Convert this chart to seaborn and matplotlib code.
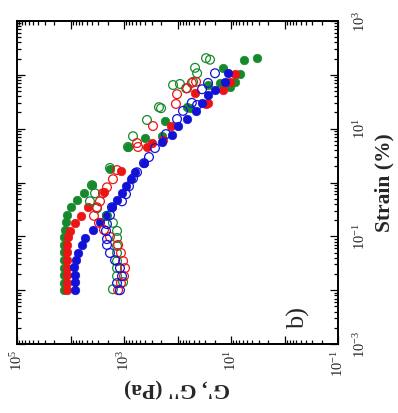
import matplotlib
matplotlib.use("Agg")
import matplotlib.pyplot as plt
import matplotlib.ticker as mticker
import numpy as np
import seaborn as sns

# strain (%) and modulus (Pa), one pair of lists per curve
# G' = filled symbols, G'' = open symbols
green_gp_strain = [0.01, 0.0138, 0.0191, 0.0263, 0.0363, 0.0501, 0.0692, 0.0955, 0.132, 0.182,
                   0.251, 0.347, 0.468, 0.646, 0.891, 1.78, 4.57, 6.76, 7.24, 14.1,
                   24.0, 25.1, 58.9, 64.6, 70.8, 74.1, 102, 135, 191, 204]
green_gp = [13200, 13200, 13200, 13200, 13200, 13200, 13200, 13200, 12700, 12100,
            11600, 9790, 7570, 5600, 3970, 1830, 842, 405, 195, 171,
            58, 66, 10.4, 26.9, 16.1, 8.4, 6.8, 14.1, 5.7, 3.3]

red_gp_strain = [0.01, 0.0138, 0.0191, 0.0263, 0.0363, 0.0501, 0.0692, 0.0955, 0.126, 0.178,
                 0.240, 0.347, 0.664, 1.62, 4.57, 5.50, 6.17, 11.2, 28.8, 30.2,
                 45.7, 52.5, 74.1, 102]
red_gp = [11600, 11600, 11600, 11600, 11600, 11600, 11600, 11100, 10200, 8240,
          6370, 4710, 2370, 1140, 372, 300, 187, 132, 29.3, 26.9,
          47.1, 14.1, 10.4, 8.4]

blue_gp_strain = [0.01, 0.0141, 0.0191, 0.0269, 0.0363, 0.0490, 0.0692, 0.0933, 0.132, 0.182,
                  0.251, 0.347, 0.468, 0.631, 0.851, 1.15, 1.55, 2.29, 5.62, 7.59,
                  11.2, 15.1, 21.4, 30.2, 41.7, 52.5, 74.1, 107]
blue_gp = [8240, 8240, 8240, 8610, 7890, 7240, 6100, 5360, 3800, 2810,
           2170, 1680, 1350, 1090, 918, 740, 623, 423, 195, 127,
           98, 66, 45, 34.8, 26.9, 19.9, 12.9, 11.4]

green_gpp_strain = [0.0104, 0.0141, 0.0182, 0.0257, 0.0347, 0.0490, 0.0661, 0.0933, 0.126, 0.178,
                    0.240, 0.331, 0.447, 0.631, 0.891, 1.86, 4.57, 7.24, 14.5, 25.1,
                    24.0, 64.6, 67.6, 56.2, 74.1, 135, 107, 204, 191]
green_gpp = [1610, 1040, 1350, 1350, 1350, 1350, 1350, 1350, 1350, 1610,
             2080, 3200, 4330, 3480, 3970, 1830, 842, 679, 372, 222,
             203, 121, 90, 69, 51, 47, 43, 29.3, 24.7]

red_gpp_strain = [0.01, 0.0135, 0.0182, 0.0257, 0.0347, 0.0490, 0.0692, 0.0977, 0.132, 0.178,
                  0.240, 0.347, 0.447, 0.631, 0.813, 1.15, 1.70, 4.57, 5.40, 11.2,
                  28.8, 43.7, 56.2, 70.8, 74.1]
red_gpp = [1290, 1140, 1000, 957, 1040, 1140, 1290, 1830, 2370, 2930,
           3640, 3200, 2810, 2470, 2080, 1610, 1350, 547, 571, 287,
           107, 102, 66, 54, 45]

blue_gpp_strain = [0.01, 0.0135, 0.0182, 0.0257, 0.036, 0.049, 0.0692, 0.0887, 0.126, 0.169,
                   0.248, 0.347, 0.447, 0.608, 0.851, 1.19, 1.55, 2.29, 2.97, 4.36,
                   7.94, 15.1, 21.4, 27.5, 30.2, 54.0, 70.8, 107]
blue_gpp = [1190, 1350, 1090, 1190, 1470, 1830, 2080, 2080, 2170, 2080,
            1830, 1680, 1090, 918, 807, 679, 571, 423, 341, 264,
            164, 102, 79, 43, 54, 34.8, 26.9, 19.9]

g_ticks = [1e5, 1e4, 1e3, 1e2, 1e1, 1e0, 1e-1]
g_tick_labels = [r"$\mathregular{10^{5}}$", "", r"$\mathregular{10^{3}}$", "",
                 r"$\mathregular{10^{1}}$", "", r"$\mathregular{10^{-1}}$"]
strain_ticks = [1e-3, 1e-2, 1e-1, 1e0, 1e1, 1e2, 1e3]
strain_tick_labels = [r"$\mathregular{10^{-3}}$", "", r"$\mathregular{10^{-1}}$", "",
                      r"$\mathregular{10^{1}}$", "", r"$\mathregular{10^{3}}$"]

GREEN = "#15892c"
RED = "#ec1414"
BLUE = "#1212d6"

sns.set_style("ticks")
plt.rcParams["font.family"] = ["Liberation Serif", "DejaVu Serif"]
plt.rcParams["mathtext.fontset"] = "custom"
plt.rcParams["mathtext.rm"] = "Liberation Serif"
plt.rcParams["mathtext.it"] = "Liberation Serif:italic"
plt.rcParams["mathtext.bf"] = "Liberation Serif:bold"

fig = plt.figure(figsize=(3.98, 4.13), dpi=100, facecolor="white")
ax = fig.add_axes([17 / 398, 1 - 344 / 413, 321 / 398, 323 / 413])
ax.set_facecolor("white")
ax.set_xscale("log")
ax.set_yscale("log")

# figure is drawn turned by 90 degrees: modulus runs along x, strain along y
filled = [(green_gp_strain, green_gp, GREEN), (red_gp_strain, red_gp, RED),
          (blue_gp_strain, blue_gp, BLUE)]
hollow = [(green_gpp_strain, green_gpp, GREEN), (red_gpp_strain, red_gpp, RED),
          (blue_gpp_strain, blue_gpp, BLUE)]

for strain, g, col in filled:
    sns.scatterplot(x=g, y=strain, ax=ax, color=col, edgecolor=col,
                    s=40, linewidth=0.3, zorder=2)
for strain, g, col in hollow:
    sns.scatterplot(x=g, y=strain, ax=ax, color=col, facecolor="none",
                    edgecolor=col, s=40, linewidth=0.9, zorder=3)

ax.set_xlim(1e5, 1e-1)
ax.set_ylim(1e-3, 1e3)

ax.set_xticks(g_ticks)
ax.set_xticklabels(g_tick_labels, rotation=90)
ax.set_yticks(strain_ticks)
ax.set_yticklabels(strain_tick_labels, rotation=90, va="center")
ax.xaxis.set_minor_locator(mticker.LogLocator(base=10, subs=np.arange(2, 10), numticks=30))
ax.yaxis.set_minor_locator(mticker.LogLocator(base=10, subs=np.arange(2, 10), numticks=30))
ax.xaxis.set_minor_formatter(mticker.NullFormatter())
ax.yaxis.set_minor_formatter(mticker.NullFormatter())

ax.tick_params(which="both", direction="in", top=True, bottom=True, left=True, right=True,
               labelleft=False, labelright=True, labeltop=False, labelbottom=True,
               width=0.9, color="black")
ax.tick_params(which="major", length=5.5)
ax.tick_params(which="minor", length=2.8)
ax.tick_params(axis="x", labelsize=10.5, pad=4)
ax.tick_params(axis="y", labelsize=10.5, pad=10)

for sp in ax.spines.values():
    sp.set_linewidth(1.4)
    sp.set_color("black")
    sp.set_visible(True)

ax.set_xlabel("G', G'' (Pa)", fontsize=15.5, fontweight="bold", rotation=180, labelpad=1)
ax.yaxis.set_label_position("right")
ax.set_ylabel("Strain (%)", fontsize=15.5, fontweight="bold", rotation=90, labelpad=5)

ax.text(0.878, 0.08, "b)", transform=ax.transAxes, rotation=90, fontsize=19,
        ha="center", va="center")

fig.savefig("out.png", dpi=100, facecolor="white")
